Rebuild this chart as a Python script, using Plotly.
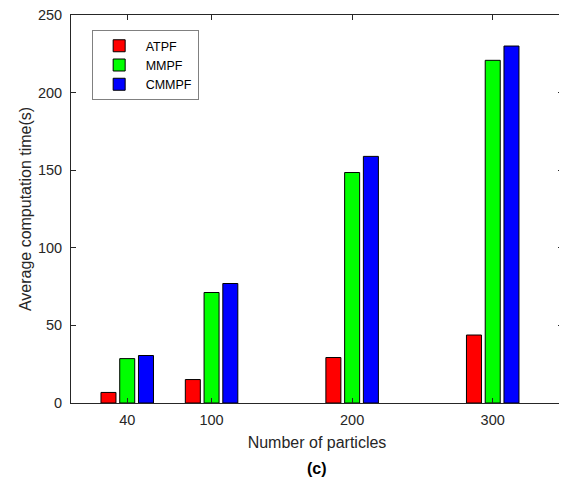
import plotly.graph_objects as go

particles = [40, 100, 200, 300]
tick_labels = ["40", "100", "200", "300"]
series_names = ["ATPF", "MMPF", "CMMPF"]
atpf = [6.8, 15.1, 29.3, 43.8]
mmpf = [28.6, 71.2, 148.5, 220.8]
cmmpf = [30.6, 77.0, 158.9, 230.0]
colors = ["#ff0000", "#00ff00", "#0000ff"]

fig = go.Figure()
for name, vals, col in zip(series_names, [atpf, mmpf, cmmpf], colors):
    fig.add_trace(go.Bar(
        x=particles, y=vals, name=name,
        marker=dict(color=col, line=dict(color="#000000", width=1)),
    ))

axis_color = "#262626"
font_family = "Liberation Sans, Arial, sans-serif"

# the page body has a default 8px margin, so the figure is 8px smaller
fig.update_layout(
    width=559, height=481,
    margin=dict(l=63, r=4, t=7, b=86),
    paper_bgcolor="white", plot_bgcolor="white",
    barmode="group", bargap=0.333, bargroupgap=0.2,
    font=dict(family=font_family, size=14.5, color=axis_color),
    showlegend=True,
    legend=dict(
        x=0.042, y=0.961, xanchor="left", yanchor="top",
        bgcolor="white", bordercolor="#808080", borderwidth=1,
        font=dict(size=12.5, color="#000000"),
        itemwidth=43, tracegroupgap=0,
    ),
    annotations=[dict(
        text="<b>(c)</b>", xref="paper", yref="paper",
        x=0.5, y=-0.168, xanchor="center", yanchor="middle",
        showarrow=False, font=dict(size=16, color="#000000"),
    )],
)

fig.update_xaxes(
    range=[0, 350], tickmode="array", tickvals=particles, ticktext=tick_labels,
    ticks="inside", ticklen=5, tickcolor=axis_color,
    showline=True, linecolor=axis_color, linewidth=1, mirror="ticks",
    showgrid=False, zeroline=False, automargin=False,
    ticklabelstandoff=4, ticklabeloverflow="allow",
    title=dict(text="Number of particles", font=dict(size=16), standoff=9),
    tickfont=dict(size=14.5),
)
fig.update_yaxes(
    range=[0, 250], tickmode="linear", tick0=0, dtick=50,
    ticks="inside", ticklen=5, tickcolor=axis_color,
    showline=True, linecolor=axis_color, linewidth=1, mirror="ticks",
    showgrid=False, zeroline=False, automargin=False,
    ticklabelstandoff=5, ticklabeloverflow="allow",
    title=dict(text="Average computation time(s)", font=dict(size=16), standoff=2),
    tickfont=dict(size=14.5),
)

fig.write_html("out.html")
